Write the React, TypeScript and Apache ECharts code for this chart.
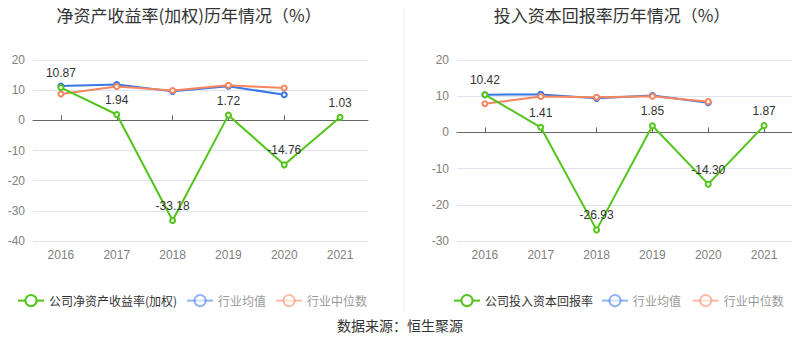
import React, { useEffect, useRef } from "react";
import * as echarts from "echarts";

const years = ["2016", "2017", "2018", "2019", "2020", "2021"];
const roe = [10.87, 1.94, -33.18, 1.72, -14.76, 1.03];
const roeAvg = [11.4, 11.9, 9.6, 11.3, 8.5];
const roeMedian = [8.7, 11.2, 9.9, 11.6, 10.7];
const roic = [10.42, 1.41, -26.93, 1.85, -14.3, 1.87];
const roicAvg = [10.4, 10.5, 9.4, 10.2, 8.2];
const roicMedian = [7.9, 9.9, 9.7, 10.0, 8.5];

const GREEN = "#52c41a";
const BLUE = "#3a75e6";
const ORANGE = "#f5865f";
const FONT = "'Liberation Sans', 'Noto Sans CJK SC', sans-serif";
const CJK = "'Noto Sans CJK SC', sans-serif";

export default function App() {
  const ref = useRef<HTMLDivElement>(null);
  useEffect(() => {
    if (!ref.current) return;
    const chart = echarts.init(ref.current, null, { renderer: "svg" });
    const grids = [
      { left: 33, right: 432, top: 60, bottom: 117 },
      { left: 457, right: 8, top: 60, bottom: 117 },
    ];
    const xAxes: any[] = [];
    const yAxes: any[] = [];
    [0, 1].forEach((g) => {
      xAxes.push({
        type: "category",
        gridIndex: g,
        data: years,
        position: "bottom",
        axisLine: { show: false, onZero: false },
        axisTick: { show: false },
        axisLabel: { color: "#808080", fontSize: 12, fontFamily: FONT, margin: 8 },
      });
      xAxes.push({
        type: "category",
        gridIndex: g,
        data: years,
        axisLine: { show: true, onZero: true, lineStyle: { color: "#666" } },
        axisTick: { show: true, alignWithLabel: true, length: 5, lineStyle: { color: "#666" } },
        axisLabel: { show: false },
      });
      yAxes.push({
        type: "value",
        gridIndex: g,
        min: g === 0 ? -40 : -30,
        max: 20,
        interval: 10,
        axisLine: { show: false },
        axisTick: { show: false },
        axisLabel: { color: "#808080", fontSize: 12, fontFamily: FONT, margin: 8 },
        splitLine: { lineStyle: { color: "#dfe4f2" } },
      });
    });
    const mkSeries = (name: string, data: number[], color: string, g: number, label: boolean, z: number) => ({
      name,
      type: "line",
      xAxisIndex: g * 2,
      yAxisIndex: g,
      data,
      symbol: "emptyCircle",
      symbolSize: 5,
      z,
      lineStyle: { color, width: 2 },
      itemStyle: { color, borderWidth: 2 },
      label: label
        ? { show: true, position: "top", color: "#333", fontSize: 12, fontFamily: FONT, formatter: (p: any) => p.value.toFixed(2) }
        : { show: false },
    });
    const legendItem = (name: string, main: boolean) => ({
      name,
      textStyle: { color: main ? "#333" : "#999" },
      itemStyle: { opacity: main ? 1 : 0.55 },
      lineStyle: { opacity: main ? 1 : 0.55 },
    });
    chart.setOption({
      animation: false,
      title: [
        { text: "净资产收益率(加权)历年情况（%）", left: 184, top: 1, textAlign: "center", textStyle: { fontSize: 17, fontWeight: "normal", color: "#333", fontFamily: CJK } },
        { text: "投入资本回报率历年情况（%）", left: 607, top: 1, textAlign: "center", textStyle: { fontSize: 17, fontWeight: "normal", color: "#333", fontFamily: CJK } },
      ],
      grid: grids,
      xAxis: xAxes,
      yAxis: yAxes,
      legend: [
        {
          left: 12,
          top: 289,
          itemWidth: 26,
          itemHeight: 14,
          itemGap: 9,
          textStyle: { fontSize: 12, fontFamily: CJK },
          data: [
            legendItem("公司净资产收益率(加权)", true),
            legendItem("行业均值", false),
            legendItem("行业中位数", false),
          ],
          selectedMode: false,
        },
        {
          left: 448,
          top: 289,
          itemWidth: 26,
          itemHeight: 14,
          itemGap: 8,
          textStyle: { fontSize: 12, fontFamily: CJK },
          data: [
            legendItem("公司投入资本回报率", true),
            legendItem("行业均值 ", false),
            legendItem("行业中位数 ", false),
          ],
          selectedMode: false,
        },
      ],
      series: [
        mkSeries("行业均值", roeAvg, BLUE, 0, false, 2),
        mkSeries("行业中位数", roeMedian, ORANGE, 0, false, 3),
        mkSeries("公司净资产收益率(加权)", roe, GREEN, 0, true, 4),
        mkSeries("行业均值 ", roicAvg, BLUE, 1, false, 2),
        mkSeries("行业中位数 ", roicMedian, ORANGE, 1, false, 3),
        mkSeries("公司投入资本回报率", roic, GREEN, 1, true, 4),
      ],
      graphic: [
        { type: "line", shape: { x1: 404, y1: 0, x2: 404, y2: 312 }, style: { stroke: "#eeeeee", lineWidth: 1 } },
        { type: "text", x: 400, y: 325, style: { text: "数据来源：恒生聚源", align: "center", verticalAlign: "middle", fontSize: 14, fill: "#333", fontFamily: CJK } },
      ],
    });
    return () => chart.dispose();
  }, []);
  return <div ref={ref} style={{ width: 800, height: 358, margin: -8 }} />;
}
